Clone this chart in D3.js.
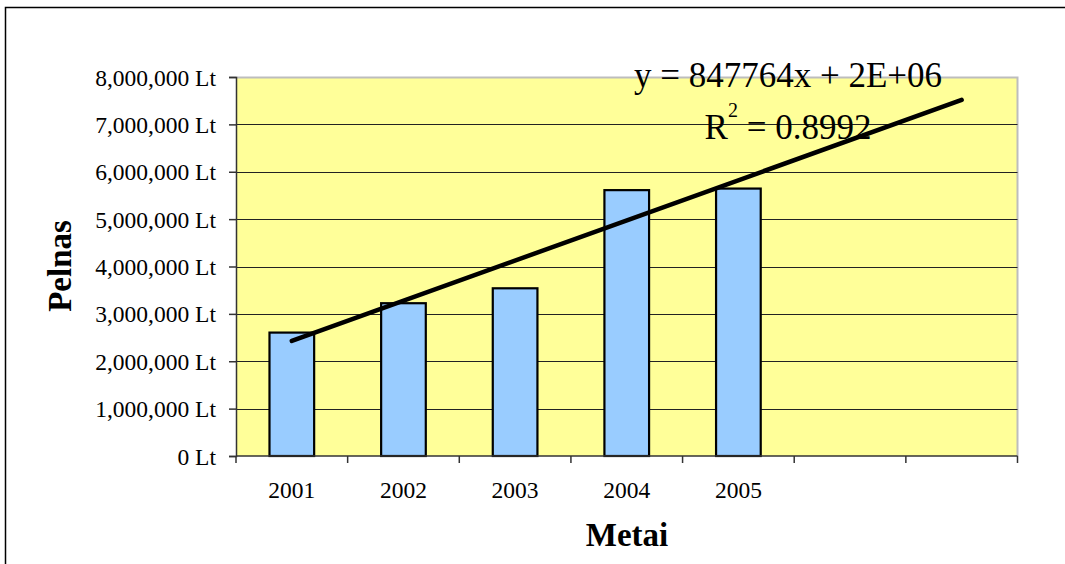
<!DOCTYPE html>
<html>
<head>
<meta charset="utf-8">
<script src="https://cdn.jsdelivr.net/npm/d3@7"></script>
<style>
  html, body { margin: 0; padding: 0; background: #fff; }
  svg { display: block; }
  text { font-family: "Liberation Serif", "Times New Roman", serif; fill: #000; }
</style>
</head>
<body>
<svg id="chart" width="1065" height="564"></svg>
<script>
// Yearly profit (Lt) per year
const years = ["2001", "2002", "2003", "2004", "2005"];
const profit = [2605000, 3225000, 3540000, 5612000, 5645000];
// Category slots on the axis: five years plus two forecast periods
const slotCount = 7;
// Value axis ticks
const yTicks = [0, 1000000, 2000000, 3000000, 4000000, 5000000, 6000000, 7000000, 8000000];
// Linear trend reported for the series
const trendSlope = 847764;
const trendR2 = 0.8992;
const trendForward = 2;

const svg = d3.select("#chart");
const W = 1065, H = 564;
const plot = { left: 236, right: 1017.5, top: 77, bottom: 456 };

// outer chart frame (runs off the right and bottom of the view)
svg.append("path")
  .attr("d", `M5.5,${H + 2}V7.5H${W + 2}`)
  .attr("fill", "none").attr("stroke", "#000").attr("stroke-width", 1.5);

const x = d3.scaleBand()
  .domain(d3.range(slotCount))
  .range([plot.left, plot.right])
  .padding(0);

const y = d3.scaleLinear()
  .domain([0, 8000000])
  .range([plot.bottom, plot.top]);

// period number (1-based) to pixel, centred in its slot
const xt = d3.scaleLinear()
  .domain([0.5, slotCount + 0.5])
  .range([plot.left, plot.right]);

// plot background
svg.append("rect")
  .attr("x", plot.left).attr("y", plot.top)
  .attr("width", plot.right - plot.left).attr("height", plot.bottom - plot.top)
  .attr("fill", "#FFFF99");

// plot border (top and right)
svg.append("path")
  .attr("d", `M${plot.left},${plot.top + 0.5}H${plot.right}V${plot.bottom}`)
  .attr("fill", "none").attr("stroke", "#BDBDBD").attr("stroke-width", 2);

// horizontal gridlines
svg.append("g")
  .selectAll("line")
  .data(yTicks.filter(d => d > 0 && d < 8000000))
  .join("line")
  .attr("x1", plot.left).attr("x2", plot.right)
  .attr("y1", d => Math.round(y(d)) + 0.5).attr("y2", d => Math.round(y(d)) + 0.5)
  .attr("stroke", "#222").attr("stroke-width", 1);

// bars
const barW = x.bandwidth() * 0.4;
svg.append("g")
  .selectAll("rect")
  .data(profit)
  .join("rect")
  .attr("x", (d, i) => x(i) + (x.bandwidth() - barW) / 2)
  .attr("y", d => y(d))
  .attr("width", barW)
  .attr("height", d => y(0) - y(d))
  .attr("fill", "#99CCFF")
  .attr("stroke", "#000")
  .attr("stroke-width", 2.2);

// value axis
const yAxis = d3.axisLeft(y)
  .tickValues(yTicks)
  .tickSize(7)
  .tickPadding(13)
  .tickFormat(d => d3.format(",")(d) + " Lt");
const yg = svg.append("g")
  .attr("transform", `translate(${plot.left},0)`)
  .call(yAxis);
yg.select(".domain").attr("stroke", "#333").attr("stroke-width", 1.5);
yg.selectAll(".tick line").attr("stroke", "#333").attr("stroke-width", 1.5);
yg.selectAll(".tick text")
  .attr("font-family", "'Liberation Serif', 'Times New Roman', serif")
  .attr("font-size", 23.5)
  .attr("fill", "#000")
  .attr("dy", "0.34em");

// category axis: ticks between slots, labels centred in slots
const xg = svg.append("g").attr("transform", `translate(0,${plot.bottom})`);
xg.append("line")
  .attr("x1", plot.left).attr("x2", plot.right)
  .attr("stroke", "#333").attr("stroke-width", 1.5);
xg.selectAll("line.tk")
  .data(d3.range(slotCount + 1))
  .join("line")
  .attr("class", "tk")
  .attr("x1", i => i < slotCount ? x(i) : plot.right)
  .attr("x2", i => i < slotCount ? x(i) : plot.right)
  .attr("y1", 0).attr("y2", 7)
  .attr("stroke", "#333").attr("stroke-width", 1.5);
xg.selectAll("text")
  .data(years)
  .join("text")
  .attr("x", (d, i) => x(i) + x.bandwidth() / 2)
  .attr("y", 42)
  .attr("text-anchor", "middle")
  .attr("font-size", 23.5)
  .text(d => d);

// linear trend, extended two periods forward
const tx = profit.map((d, i) => i + 1);
const intercept = d3.mean(profit) - trendSlope * d3.mean(tx);
const trendPts = [1, years.length + trendForward].map(t => [xt(t), y(trendSlope * t + intercept)]);
svg.append("path")
  .attr("d", d3.line()(trendPts))
  .attr("fill", "none")
  .attr("stroke", "#000")
  .attr("stroke-width", 4.5)
  .attr("stroke-linecap", "round");

// trend equation label
const fmtExp = v => {
  const e = Math.floor(Math.log10(Math.abs(v)));
  const m = Math.round(v / Math.pow(10, e));
  return `${m}E+${String(e).padStart(2, "0")}`;
};
svg.append("text")
  .attr("x", 788).attr("y", 87)
  .attr("text-anchor", "middle")
  .attr("font-size", 35)
  .attr("xml:space", "preserve")
  .text(`y = ${trendSlope}x + ${fmtExp(intercept)}`);

const r2 = svg.append("text")
  .attr("x", 788).attr("y", 139)
  .attr("text-anchor", "middle")
  .attr("font-size", 35);
r2.append("tspan").text("R");
r2.append("tspan").attr("dy", -22).attr("font-size", 20).text("2");
r2.append("tspan").attr("dy", 22).text(` = ${trendR2}`);

// axis titles
svg.append("text")
  .attr("x", 627).attr("y", 546)
  .attr("text-anchor", "middle")
  .attr("font-size", 33)
  .attr("font-weight", "bold")
  .text("Metai");

svg.append("text")
  .attr("transform", "translate(71,266) rotate(-90)")
  .attr("text-anchor", "middle")
  .attr("font-size", 33)
  .attr("font-weight", "bold")
  .text("Pelnas");
</script>
</body>
</html>
